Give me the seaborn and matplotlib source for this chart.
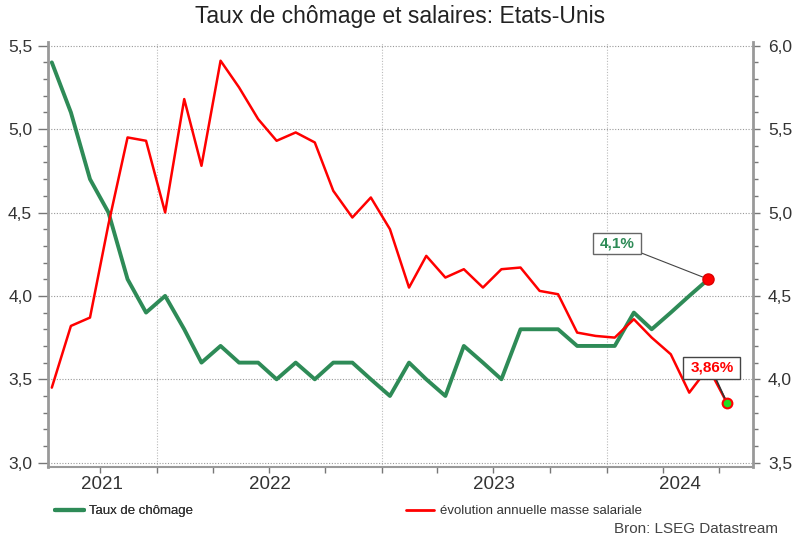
import numpy as np
import pandas as pd
import matplotlib
matplotlib.use("Agg")
import matplotlib.pyplot as plt
import matplotlib.dates as mdates
import matplotlib.ticker as mticker
from matplotlib.lines import Line2D
import seaborn as sns

# ---------------- data ----------------
start_month = "2021-07-01"
end_month = "2024-07-01"
unemployment = [5.4, 5.1, 4.7, 4.5, 4.1, 3.9, 4.0, 3.8, 3.6, 3.7, 3.6, 3.6,
                3.5, 3.6, 3.5, 3.6, 3.6, 3.5, 3.4, 3.6, 3.5, 3.4, 3.7, 3.6,
                3.5, 3.8, 3.8, 3.8, 3.7, 3.7, 3.7, 3.9, 3.8, 3.9, 4.0, 4.1]
wage_growth = [3.95, 4.32, 4.37, 4.93, 5.45, 5.43, 5.00, 5.68, 5.28, 5.91, 5.75, 5.56,
               5.43, 5.48, 5.42, 5.13, 4.97, 5.09, 4.90, 4.55, 4.74, 4.61, 4.66, 4.55,
               4.66, 4.67, 4.53, 4.51, 4.28, 4.26, 4.25, 4.36, 4.25, 4.15, 3.92, 4.07,
               3.86]
year_labels = ["2021", "2022", "2023", "2024"]
left_ticks = [3.0, 3.5, 4.0, 4.5, 5.0, 5.5]
right_ticks = [3.5, 4.0, 4.5, 5.0, 5.5, 6.0]
title = "Taux de chômage et salaires: Etats-Unis"
label_unemp = "Taux de chômage"
label_wage = "évolution annuelle masse salariale"
source_text = "Bron: LSEG Datastream"
callout_unemp = "4,1%"
callout_wage = "3,86%"

GREEN = "#2e8b57"
RED = "#ff0000"

months = pd.date_range(start_month, end_month, freq="MS") + pd.Timedelta(days=13)
df_u = pd.DataFrame({"date": months[:len(unemployment)], "value": unemployment})
df_w = pd.DataFrame({"date": months[:len(wage_growth)], "value": wage_growth})

# ---------------- style ----------------
sns.set_theme(style="white")
plt.rcParams['font.family'] = ['Liberation Sans', 'DejaVu Sans']

fig = plt.figure(figsize=(8, 5.4), dpi=100)
ax = fig.add_axes([47.5 / 800, 1 - 466.7 / 540, (752.7 - 47.5) / 800, (466.7 - 41.7) / 540])
ax2 = ax.twinx()

sns.lineplot(data=df_u, x="date", y="value", ax=ax, color=GREEN, lw=2.8, legend=False)
sns.lineplot(data=df_w, x="date", y="value", ax=ax2, color=RED, lw=1.8, legend=False)

ax.set_xlabel("")
ax.set_ylabel("")
ax2.set_ylabel("")

x0 = months[0] - pd.Timedelta(days=7)
x1 = months[-1] + pd.Timedelta(days=42)
ax.set_xlim(x0, x1)
ax.set_ylim(3.0 - 0.024, 5.5 + 0.024)
ax2.set_ylim(3.5 - 0.024, 6.0 + 0.024)
offset = right_ticks[0] - left_ticks[0]  # right axis = left axis + offset

fmt = mticker.FuncFormatter(lambda v, p: f"{v:.1f}".replace(".", ","))
for a, ticks in ((ax, left_ticks), (ax2, right_ticks)):
    a.set_yticks(ticks)
    a.yaxis.set_major_formatter(fmt)
    a.yaxis.set_minor_locator(mticker.MultipleLocator(0.1))

ax.tick_params(axis="y", which="major", direction="out", length=7, width=1, color="#777",
               labelsize=12.5, labelcolor="#333", pad=4, left=True)
ax.tick_params(axis="y", which="minor", direction="out", length=3.5, width=1, color="#777", left=True)
ax2.tick_params(axis="y", which="major", direction="out", length=5, width=1, color="#777",
                labelsize=12.5, labelcolor="#333", pad=6, right=True)
ax2.tick_params(axis="y", which="minor", direction="out", length=3.5, width=1, color="#777", right=True)

# x axis: quarterly ticks, year labels centred on visible year span
ax.xaxis.set_major_locator(mdates.MonthLocator(bymonth=[1, 4, 7, 10]))
ax.xaxis.set_major_formatter(mticker.NullFormatter())
lo, hi = mdates.date2num(x0), mdates.date2num(x1)
centers = []
boundaries = []
for y in year_labels:
    a = max(lo, mdates.date2num(pd.Timestamp(f"{y}-01-01")))
    b = min(hi, mdates.date2num(pd.Timestamp(f"{int(y) + 1}-01-01")))
    centers.append((a + b) / 2)
    if mdates.date2num(pd.Timestamp(f"{y}-01-01")) > lo:
        boundaries.append(pd.Timestamp(f"{y}-01-01"))
ax.set_xticks(centers, minor=True)
ax.set_xticklabels(year_labels, minor=True)
ax.tick_params(axis="x", which="major", direction="out", length=4, width=1, color="#777", bottom=True)
ax.tick_params(axis="x", which="minor", length=0, labelsize=13.5, labelcolor="#333", pad=7, bottom=True)

# grid
ax.yaxis.grid(True, linestyle=(0, (1, 1.5)), color="#999", lw=0.8)
ax.xaxis.grid(False)
ax2.grid(False)
for d in boundaries:
    ax.axvline(d, linestyle=(0, (1, 1.5)), color="#bbb", lw=0.8, zorder=0.5)

# spines
for a in (ax, ax2):
    a.spines["top"].set_visible(False)
ax.spines["right"].set_visible(False)
ax2.spines["left"].set_visible(False)
ax2.spines["bottom"].set_visible(False)
ax.spines["left"].set_color("#999")
ax.spines["left"].set_linewidth(2)
ax.spines["bottom"].set_color("#999")
ax.spines["bottom"].set_linewidth(1.5)
ax2.spines["right"].set_color("#999")
ax2.spines["right"].set_linewidth(2)

# end markers and callouts
u_last_x, u_last_y = df_u["date"].iloc[-1], df_u["value"].iloc[-1]
w_last_x, w_last_y = df_w["date"].iloc[-1], df_w["value"].iloc[-1]

ax2.annotate(callout_unemp, xy=(u_last_x, u_last_y + offset), xytext=(-91.5, 36),
             textcoords="offset pixels", ha="center", va="center",
             fontsize=11, fontweight="bold", color=GREEN,
             bbox=dict(boxstyle="square,pad=0.45", fc="white", ec="#666", lw=1,
                       mutation_aspect=0.5),
             arrowprops=dict(arrowstyle="-", color="#444", lw=0.8, relpos=(1, 0),
                             shrinkA=0, shrinkB=0), zorder=6)
ax2.plot([u_last_x], [u_last_y + offset], marker="o", ms=8, color=RED, mec="#dd0000", zorder=7)

ax2.annotate(callout_wage, xy=(w_last_x, w_last_y), xytext=(-15, 35),
             textcoords="offset pixels", ha="center", va="center",
             fontsize=11, fontweight="bold", color=RED,
             bbox=dict(boxstyle="square,pad=0.45", fc="white", ec="#444", lw=1,
                       mutation_aspect=0.6),
             arrowprops=dict(arrowstyle="-", color="#333", lw=1.2, relpos=(0.55, 0),
                             shrinkA=0, shrinkB=0), zorder=6)
ax2.plot([w_last_x], [w_last_y], marker="o", ms=7, color="#22dd22", mec=RED, mew=1.5, zorder=7)

# title, legends, source
fig.text(0.5, 1 - 16 / 540, title, ha="center", va="center", fontsize=16.5, color="#222")

h1 = [Line2D([], [], color=GREEN, lw=3)]
h2 = [Line2D([], [], color=RED, lw=2)]
leg1 = fig.legend(h1, [label_unemp], loc="center left", bbox_to_anchor=(55 / 800, 1 - 511 / 540),
                  frameon=False, fontsize=9.5, handlelength=2.2, handletextpad=0.35,
                  borderpad=0, borderaxespad=0)
leg2 = fig.legend(h2, [label_wage], loc="center left", bbox_to_anchor=(406 / 800, 1 - 511 / 540),
                  frameon=False, fontsize=9.5, handlelength=2.1, handletextpad=0.45,
                  borderpad=0, borderaxespad=0)
for leg in (leg1, leg2):
    for t in leg.get_texts():
        t.set_color("#333")
fig.add_artist(leg1)

fig.text(778 / 800, 1 - 529 / 540, source_text, ha="right", va="center", fontsize=11, color="#444")

fig.savefig("out.png", dpi=100)
